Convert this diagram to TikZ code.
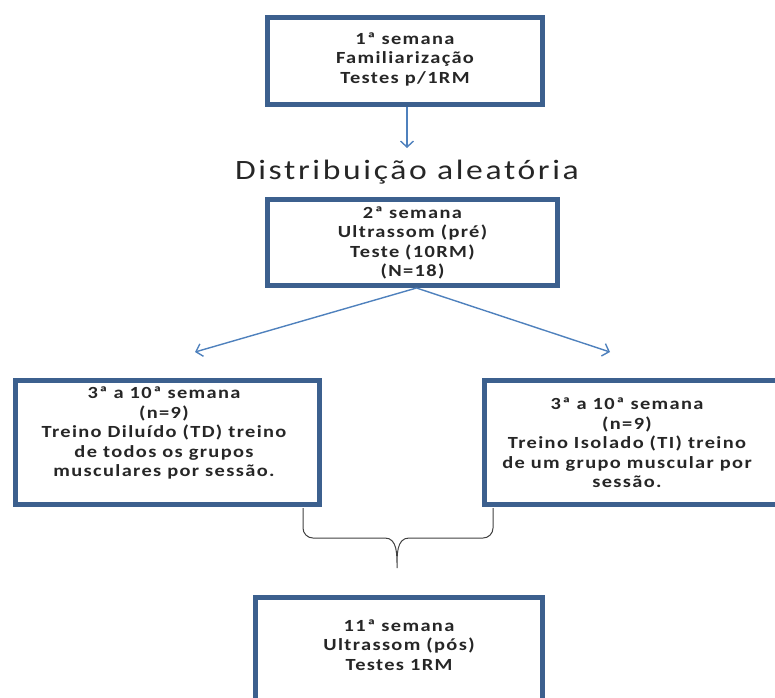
\documentclass[tikz,border=0pt]{standalone}
\usepackage{fontspec}
\setmainfont{Carlito}
\newfontfamily\widefont[FakeStretch=1.2, LetterSpace=8]{Carlito}
\newfontfamily\titlefont[FakeStretch=1.2, LetterSpace=9.5]{Carlito}
\usetikzlibrary{arrows.meta}
\definecolor{boxblue}{RGB}{60,96,142}
\definecolor{arrowblue}{RGB}{79,129,189}
\begin{document}
\begin{tikzpicture}[x=1pt,y=-1pt,
  box/.style={draw=boxblue, line width=5pt, fill=white, rectangle, inner sep=0pt},
  txt/.style={align=center, font=\widefont\fontsize{17}{19.5}\selectfont\bfseries, text=black!85, inner sep=0pt},
  conn/.style={draw=arrowblue, line width=1.4pt, -{Straight Barb[length=6pt,width=13pt,line width=1.4pt]}},
  brace/.style={draw=black!75, line width=1pt}]
\useasboundingbox (0,0) rectangle (775,697);

% boxes
\node[box, minimum width=275, minimum height=87] (b1) at (405,61) {};
\node[txt] (t1) at (405,59) {1ª semana\\Familiarização\\Testes p/1RM};

\node[font=\titlefont\fontsize{28}{32}\selectfont, text=black!85, inner sep=0pt] (dist) at (407,172) {Distribuição aleatória};

\node[box, minimum width=290, minimum height=86] (b2) at (412.5,242.5) {};
\node[txt] (t2) at (412.5,243) {2ª semana\\Ultrassom (pré)\\Teste (10RM)\\(N=18)};

\node[box, minimum width=304, minimum height=124] (b3) at (167.5,442.5) {};
\node[txt] (t3) at (164,433) {3ª a 10ª semana\\(n=9)\\Treino Diluído (TD) treino\\de todos os grupos\\musculares por sessão.};

\node[box, minimum width=293, minimum height=124] (b4) at (631,442.5) {};
\node[txt] (t4) at (627,443) {3ª a 10ª semana\\(n=9)\\Treino Isolado (TI) treino\\de um grupo muscular por\\sessão.};

\node[box, minimum width=287, minimum height=140, anchor=north] (b5) at (399,594.5) {};
\node[txt] (t5) at (399,645) {11ª semana\\Ultrassom (pós)\\Testes 1RM};

% arrows
\coordinate (a1) at (407,148);
\coordinate (a2) at (195,352);
\coordinate (a3) at (610,352);
\draw[conn] (b1.south -| a1) -- (a1);
\draw[conn] (b2.south) ++(4,0) coordinate (s2) -- (a2);
\draw[conn] (s2) -- (a3);

% brace
\coordinate (bl) at (303,508);
\coordinate (br) at (493,508);
\coordinate (tip) at (397,568);
\draw[brace] (bl) -- (303,528) to[out=-90,in=180] (313,538) -- (385,538)
  to[out=0,in=90] (tip) to[out=90,in=180] (409,538) -- (483,538)
  to[out=0,in=-90] (493,528) -- (br);
\end{tikzpicture}
\end{document}
